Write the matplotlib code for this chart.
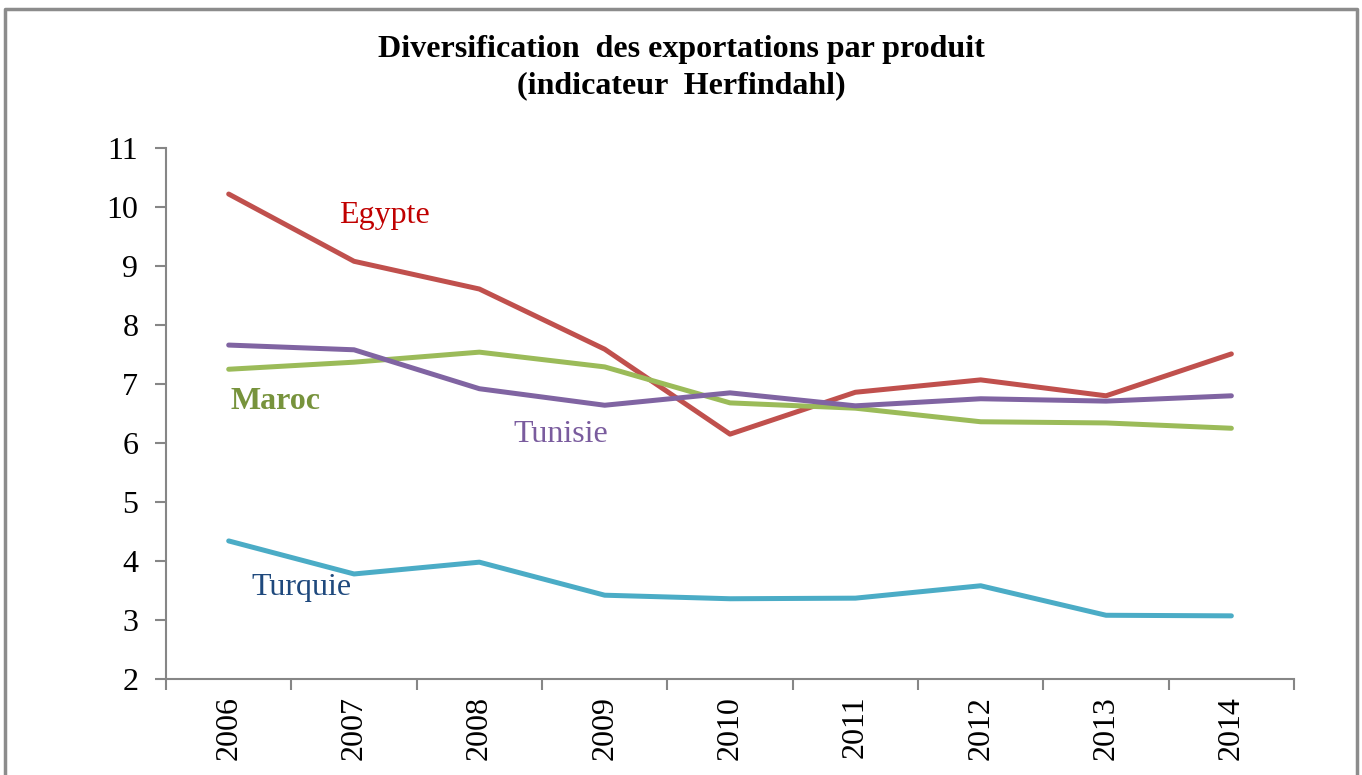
import numpy as np
import matplotlib.pyplot as plt
from matplotlib.lines import Line2D

plt.rcParams['font.family'] = ['Liberation Serif', 'DejaVu Serif']

years = ['2006', '2007', '2008', '2009', '2010', '2011', '2012', '2013', '2014']
egypte = [10.22, 9.08, 8.61, 7.59, 6.15, 6.86, 7.07, 6.80, 7.51]
maroc = [7.25, 7.37, 7.54, 7.29, 6.68, 6.59, 6.36, 6.34, 6.25]
tunisie = [7.66, 7.58, 6.92, 6.64, 6.85, 6.63, 6.75, 6.71, 6.80]
turquie = [4.34, 3.78, 3.98, 3.42, 3.36, 3.37, 3.58, 3.08, 3.07]

fig = plt.figure(figsize=(13.62, 7.75), dpi=100)
ax = fig.add_axes([0.1219, 0.1239, 0.8282, 0.6851])

x = np.arange(len(years))
lw = 3.6
ax.plot(x, egypte, color='#C0504D', lw=lw, solid_capstyle='round')
ax.plot(x, maroc, color='#9BBB59', lw=lw, solid_capstyle='round')
ax.plot(x, tunisie, color='#8064A2', lw=lw, solid_capstyle='round')
ax.plot(x, turquie, color='#4BACC6', lw=lw, solid_capstyle='round')

# series labels
ax.text(1.24, 9.85, 'Egypte', color='#C00000', fontsize=23, ha='center', va='center')
ax.text(0.375, 6.70, 'Maroc', color='#77933C', fontsize=23, fontweight='bold',
        ha='center', va='center')
ax.text(2.65, 6.14, 'Tunisie', color='#7A5C9E', fontsize=23, ha='center', va='center')
ax.text(0.58, 3.55, 'Turquie', color='#1F497D', fontsize=23, ha='center', va='center')

ax.set_xlim(-0.5, len(years) - 0.5)
ax.set_ylim(2, 11)
ax.set_yticks(range(2, 12))
ax.tick_params(axis='y', labelsize=23, color='#868686', length=8, width=1.5,
               direction='out', pad=12)

ax.set_xticks(np.arange(-0.5, len(years)), labels=[])
ax.set_xticks(x, labels=years, minor=True)
ax.tick_params(axis='x', which='major', color='#868686', length=8, width=1.5, direction='out')
ax.tick_params(axis='x', which='minor', length=0, labelsize=23, rotation=90, pad=12)

for s in ['top', 'right']:
    ax.spines[s].set_visible(False)
for s in ['left', 'bottom']:
    ax.spines[s].set_color('#868686')
    ax.spines[s].set_linewidth(1.5)

fig.text(0.5, 0.9125, 'Diversification  des exportations par produit\n(indicateur  Herfindahl)',
         ha='center', va='center', fontsize=23, fontweight='bold', linespacing=1.35)

# outer frame (top, left, right)
fx0, fx1, fy = 5 / 1362, 1357 / 1362, 1 - 9 / 775
frame = Line2D([fx0, fx0, fx1, fx1], [-0.05, fy, fy, -0.05], transform=fig.transFigure,
               color='#8C8C8C', lw=2.5)
fig.add_artist(frame)

fig.savefig('out.png', dpi=100)
